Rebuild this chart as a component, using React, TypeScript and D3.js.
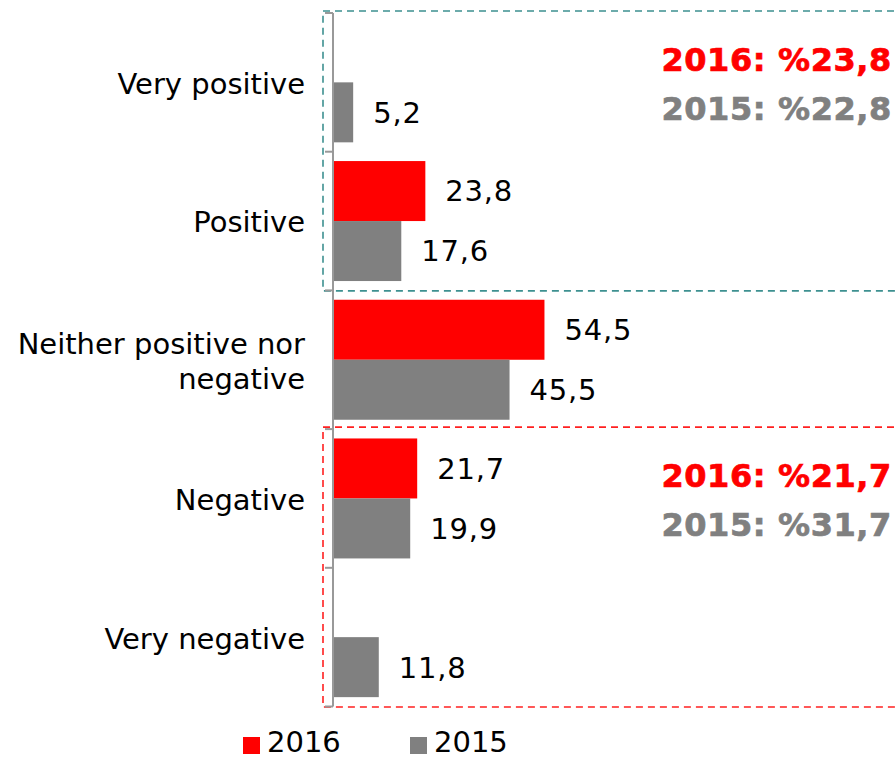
import React from "react";
import * as d3 from "d3";

const categories = ["Very positive", "Positive", "Neither positive nor negative", "Negative", "Very negative"];
const categoryLines = [["Very positive"], ["Positive"], ["Neither positive nor", "negative"], ["Negative"], ["Very negative"]];
const seriesNames = ["2016", "2015"];
const values2016: (number | null)[] = [null, 23.8, 54.5, 21.7, null];
const values2015: (number | null)[] = [5.2, 17.6, 45.5, 19.9, 11.8];
const seriesColors = ["#ff0000", "#808080"];
const boxNotes = [
  { rows: [0, 1], color: "#3d9090", lines: ["2016: %23,8", "2015: %22,8"] },
  { rows: [3, 4], color: "#ff2020", lines: ["2016: %21,7", "2015: %31,7"] },
];

const W = 896;
const H = 761;
const FONT = "'DejaVu Sans', Verdana, sans-serif";

export default function App() {
  const y = d3.scaleBand<string>().domain(categories).range([13, 706.5]).paddingInner(0).paddingOuter(0);
  const inner = d3.scaleBand<string>().domain(seriesNames).range([0, y.bandwidth()]).paddingInner(0).paddingOuter(0.156);
  const x = d3.scaleLinear().domain([0, 60]).range([333, 333 + 60 * 3.88]);
  const series = [values2016, values2015];
  const fmt = (v: number) => v.toFixed(1).replace(".", ",");
  const ticks = [...categories.map((c) => y(c)!), y(categories[categories.length - 1])! + y.bandwidth()];

  return (
    <svg width={W} height={H} style={{ position: "absolute", left: 0, top: 0, background: "#fff" }} fontFamily={FONT}>
      {/* dashed boxes */}
      {boxNotes.map((b, i) => {
        const top = y(categories[b.rows[0]])! - 2;
        const bottom = y(categories[b.rows[b.rows.length - 1]])! + y.bandwidth() + 0.5;
        return (
          <rect key={i} x={323} y={top} width={W} height={bottom - top} fill="none" stroke={b.color} strokeWidth={1.6} strokeDasharray="7 5" />
        );
      })}
      {/* bars */}
      {series.map((vals, si) =>
        vals.map((v, ci) =>
          v == null ? null : (
            <g key={`${si}-${ci}`}>
              <rect
                x={x(0)}
                y={y(categories[ci])! + inner(seriesNames[si])!}
                width={x(v) - x(0)}
                height={inner.bandwidth()}
                fill={seriesColors[si]}
              />
              <text
                x={x(v) + 20}
                y={y(categories[ci])! + inner(seriesNames[si])! + inner.bandwidth() / 2}
                dy="0.36em"
                fontSize={29}
                letterSpacing={0.8}
                fill="#000"
              >
                {fmt(v)}
              </text>
            </g>
          )
        )
      )}
      {/* axis */}
      <line x1={333} x2={333} y1={ticks[0]} y2={ticks[ticks.length - 1]} stroke="#999" strokeWidth={2} />
      {ticks.map((t, i) => (
        <line key={i} x1={325} x2={333} y1={t} y2={t} stroke="#999" strokeWidth={2} />
      ))}
      {/* category labels */}
      {categoryLines.map((lines, ci) => {
        const cy = y(categories[ci])! + y.bandwidth() / 2 + 1;
        const lh = 35;
        const start = cy - ((lines.length - 1) * lh) / 2;
        return (
          <text key={ci} textAnchor="end" fontSize={29} fill="#000">
            {lines.map((l, li) => (
              <tspan key={li} x={305} y={start + li * lh} dy="0.36em">
                {l}
              </tspan>
            ))}
          </text>
        );
      })}
      {/* box notes */}
      {boxNotes.map((b, i) => {
        const top = y(categories[b.rows[0]])!;
        return (
          <g key={i} fontWeight="bold" fontSize={32} letterSpacing={0.6} textAnchor="end" strokeWidth={0.7}>
            <text x={892} y={top + 46} dy="0.36em" fill={seriesColors[0]} stroke={seriesColors[0]}>{b.lines[0]}</text>
            <text x={892} y={top + 95.5} dy="0.36em" fill={seriesColors[1]} stroke={seriesColors[1]}>{b.lines[1]}</text>
          </g>
        );
      })}
      {/* legend */}
      {seriesNames.map((s, i) => (
        <g key={s} transform={`translate(${243 + i * 167},0)`}>
          <rect x={0} y={737} width={17} height={17} fill={seriesColors[i]} />
          <text x={24} y={742} dy="0.36em" fontSize={29} fill="#000">{s}</text>
        </g>
      ))}
    </svg>
  );
}
